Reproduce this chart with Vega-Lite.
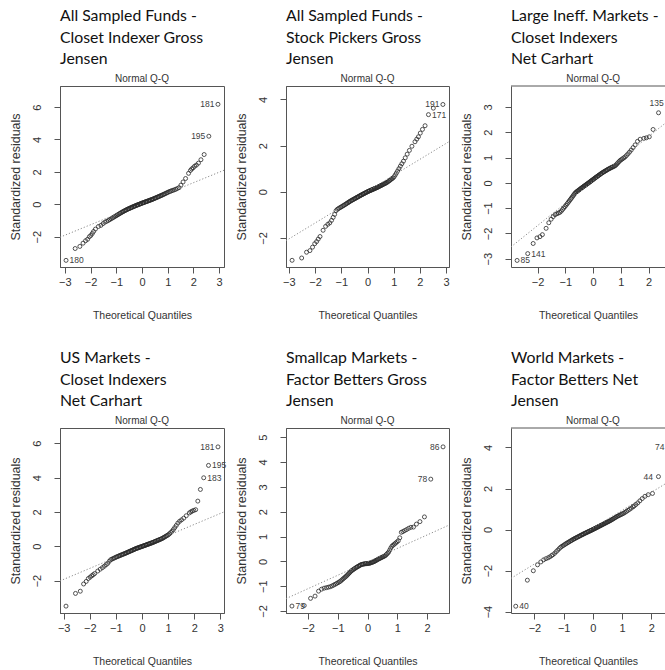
{
  "$schema": "https://vega.github.io/schema/vega-lite/v6.json",
  "padding": {"left": 8, "top": 7, "right": 0, "bottom": 0},
  "background": "white",
  "config": {
    "view": {"stroke": "#555"},
    "axis": {"grid": false, "domainColor": "#555", "tickColor": "#555", "labelFont": "Liberation Sans", "titleFont": "Liberation Sans", "labelFontSize": 11, "titleFontSize": 10.5, "titleFontWeight": "normal", "labelColor": "#333", "titleColor": "#333", "labelFlush": false, "labelOverlap": false, "tickSize": 6},
    "axisX": {"labelPadding": 3, "titlePadding": 23, "title": "Theoretical Quantiles"},
    "axisY": {"labelAngle": 270, "labelAlign": "center", "labelBaseline": "bottom", "labelPadding": 12, "titlePadding": 9, "titleFontSize": 12.5},
    "title": {"anchor": "start", "frame": "group", "font": "Lato", "fontSize": 15.8, "fontWeight": "normal", "color": "#111", "lineHeight": 21.5, "offset": 6},
    "point": {"shape": "circle", "filled": false, "size": 16, "strokeWidth": 0.8, "color": "#2a2a2a", "opacity": 1},
    "rule": {"color": "#8c8c8c", "strokeDash": [1.2, 2], "strokeWidth": 1},
    "text": {"font": "Liberation Sans", "fontSize": 8.5, "color": "#404040", "baseline": "middle"}
  },
  "datasets": {
    "a": [
      {"x":-2.955,"y":-3.46},{"x":-2.6,"y":-2.73},{"x":-2.418,"y":-2.6},{"x":-2.293,"y":-2.4},{"x":-2.196,"y":-2.25},{"x":-2.116,"y":-2.16},{"x":-2.047,"y":-2.0},{"x":-1.988,"y":-1.92},{"x":-1.933,"y":-1.8},{"x":-1.885,"y":-1.68},
      {"x":-1.812,"y":-1.53},{"x":-1.695,"y":-1.37},{"x":-1.598,"y":-1.3},{"x":-1.514,"y":-1.19},{"x":-1.44,"y":-1.1},{"x":-1.372,"y":-1.05},{"x":-1.311,"y":-1.0},{"x":-1.254,"y":-0.945},{"x":-1.2,"y":-0.89},{"x":-1.15,"y":-0.845},{"x":-1.103,"y":-0.8},{"x":-1.058,"y":-0.755},{"x":-1.015,"y":-0.715},{"x":-0.974,"y":-0.676},{"x":-0.935,"y":-0.638},{"x":-0.896,"y":-0.6},{"x":-0.86,"y":-0.566},{"x":-0.824,"y":-0.53},{"x":-0.789,"y":-0.5},{"x":-0.755,"y":-0.466},{"x":-0.722,"y":-0.44},{"x":-0.69,"y":-0.41},{"x":-0.659,"y":-0.385},{"x":-0.628,"y":-0.36},{"x":-0.598,"y":-0.334},{"x":-0.568,"y":-0.309},{"x":-0.539,"y":-0.288},{"x":-0.51,"y":-0.268},{"x":-0.482,"y":-0.248},{"x":-0.454,"y":-0.229},{"x":-0.426,"y":-0.209},{"x":-0.399,"y":-0.19},{"x":-0.372,"y":-0.17},{"x":-0.345,"y":-0.15},{"x":-0.319,"y":-0.135},{"x":-0.292,"y":-0.115},{"x":-0.266,"y":-0.098},{"x":-0.24,"y":-0.08},{"x":-0.215,"y":-0.064},{"x":-0.189,"y":-0.048},{"x":-0.164,"y":-0.033},{"x":-0.138,"y":-0.016},{"x":-0.113,"y":-0.001},{"x":-0.088,"y":0.015},{"x":-0.063,"y":0.031},{"x":-0.038,"y":0.046},{"x":-0.013,"y":0.062},
      {"x":0.013,"y":0.078},{"x":0.038,"y":0.092},{"x":0.063,"y":0.107},{"x":0.088,"y":0.121},{"x":0.113,"y":0.136},{"x":0.138,"y":0.151},{"x":0.164,"y":0.166},{"x":0.189,"y":0.18},{"x":0.215,"y":0.196},{"x":0.24,"y":0.21},{"x":0.266,"y":0.226},{"x":0.292,"y":0.241},{"x":0.319,"y":0.257},{"x":0.345,"y":0.272},{"x":0.372,"y":0.288},{"x":0.399,"y":0.303},{"x":0.426,"y":0.321},{"x":0.454,"y":0.34},{"x":0.482,"y":0.36},{"x":0.51,"y":0.379},{"x":0.539,"y":0.399},{"x":0.568,"y":0.419},{"x":0.598,"y":0.44},{"x":0.628,"y":0.461},{"x":0.659,"y":0.482},{"x":0.69,"y":0.504},{"x":0.722,"y":0.526},{"x":0.755,"y":0.549},{"x":0.789,"y":0.572},{"x":0.824,"y":0.598},{"x":0.86,"y":0.626},{"x":0.896,"y":0.654},{"x":0.935,"y":0.684},{"x":0.974,"y":0.714},{"x":1.015,"y":0.745},{"x":1.058,"y":0.778},{"x":1.103,"y":0.805},{"x":1.15,"y":0.832},{"x":1.2,"y":0.861},{"x":1.254,"y":0.892},{"x":1.311,"y":0.925},{"x":1.372,"y":0.972},{"x":1.44,"y":1.026},{"x":1.514,"y":1.18},{"x":1.598,"y":1.378},{"x":1.695,"y":1.59},{"x":1.812,"y":1.91},
      {"x":1.885,"y":2.09},{"x":1.933,"y":2.18},{"x":1.988,"y":2.25},{"x":2.047,"y":2.35},{"x":2.116,"y":2.42},{"x":2.196,"y":2.54},{"x":2.293,"y":2.75},{"x":2.418,"y":3.07},{"x":2.6,"y":4.2},{"x":2.955,"y":6.17}
    ],
    "b": [
      {"x":-2.878,"y":-2.97},{"x":-2.512,"y":-2.87},{"x":-2.326,"y":-2.62},{"x":-2.197,"y":-2.55},{"x":-2.097,"y":-2.4},{"x":-2.014,"y":-2.25},{"x":-1.943,"y":-2.16},{"x":-1.881,"y":-2.05},
      {"x":-1.812,"y":-1.94},{"x":-1.695,"y":-1.67},{"x":-1.598,"y":-1.5},{"x":-1.514,"y":-1.41},{"x":-1.44,"y":-1.35},{"x":-1.372,"y":-1.24},{"x":-1.311,"y":-1.11},{"x":-1.254,"y":-0.98},{"x":-1.2,"y":-0.82},{"x":-1.15,"y":-0.76},{"x":-1.103,"y":-0.725},{"x":-1.058,"y":-0.695},{"x":-1.015,"y":-0.665},{"x":-0.974,"y":-0.64},{"x":-0.935,"y":-0.61},{"x":-0.896,"y":-0.585},{"x":-0.86,"y":-0.558},{"x":-0.824,"y":-0.532},{"x":-0.789,"y":-0.506},{"x":-0.755,"y":-0.48},{"x":-0.722,"y":-0.457},{"x":-0.69,"y":-0.434},{"x":-0.659,"y":-0.41},{"x":-0.628,"y":-0.389},{"x":-0.598,"y":-0.37},{"x":-0.568,"y":-0.351},{"x":-0.539,"y":-0.333},{"x":-0.51,"y":-0.314},{"x":-0.482,"y":-0.296},{"x":-0.454,"y":-0.279},{"x":-0.426,"y":-0.261},{"x":-0.399,"y":-0.244},{"x":-0.372,"y":-0.227},{"x":-0.345,"y":-0.21},{"x":-0.319,"y":-0.193},{"x":-0.292,"y":-0.176},{"x":-0.266,"y":-0.16},{"x":-0.24,"y":-0.144},{"x":-0.215,"y":-0.129},{"x":-0.189,"y":-0.113},{"x":-0.164,"y":-0.098},{"x":-0.138,"y":-0.083},{"x":-0.113,"y":-0.068},{"x":-0.088,"y":-0.053},{"x":-0.063,"y":-0.038},{"x":-0.038,"y":-0.023},{"x":-0.013,"y":-0.008},
      {"x":0.013,"y":0.007},{"x":0.038,"y":0.019},{"x":0.063,"y":0.032},{"x":0.088,"y":0.044},{"x":0.113,"y":0.057},{"x":0.138,"y":0.069},{"x":0.164,"y":0.082},{"x":0.189,"y":0.095},{"x":0.215,"y":0.108},{"x":0.24,"y":0.12},{"x":0.266,"y":0.133},{"x":0.292,"y":0.146},{"x":0.319,"y":0.16},{"x":0.345,"y":0.173},{"x":0.372,"y":0.186},{"x":0.399,"y":0.201},{"x":0.426,"y":0.217},{"x":0.454,"y":0.233},{"x":0.482,"y":0.25},{"x":0.51,"y":0.266},{"x":0.539,"y":0.283},{"x":0.568,"y":0.3},{"x":0.598,"y":0.317},{"x":0.628,"y":0.335},{"x":0.659,"y":0.353},{"x":0.69,"y":0.371},{"x":0.722,"y":0.39},{"x":0.755,"y":0.413},{"x":0.789,"y":0.441},{"x":0.824,"y":0.471},{"x":0.86,"y":0.5},{"x":0.896,"y":0.532},{"x":0.935,"y":0.565},{"x":0.974,"y":0.598},{"x":1.015,"y":0.648},{"x":1.058,"y":0.727},{"x":1.103,"y":0.81},{"x":1.15,"y":0.9},{"x":1.2,"y":1.0},{"x":1.254,"y":1.108},{"x":1.311,"y":1.213},{"x":1.372,"y":1.325},{"x":1.44,"y":1.47},{"x":1.514,"y":1.628},{"x":1.598,"y":1.79},{"x":1.695,"y":1.97},{"x":1.812,"y":2.165},
      {"x":1.881,"y":2.28},{"x":1.943,"y":2.38},{"x":2.014,"y":2.54},{"x":2.097,"y":2.7},{"x":2.197,"y":2.86},{"x":2.326,"y":3.34},{"x":2.512,"y":3.62},{"x":2.878,"y":3.78}
    ],
    "c": [
      {"x":-2.74,"y":-3.07},{"x":-2.357,"y":-2.8},{"x":-2.161,"y":-2.4},{"x":-2.024,"y":-2.18},{"x":-1.917,"y":-2.13},{"x":-1.829,"y":-2.05},
      {"x":-1.695,"y":-1.8},{"x":-1.598,"y":-1.58},{"x":-1.514,"y":-1.44},{"x":-1.44,"y":-1.337},{"x":-1.372,"y":-1.26},{"x":-1.311,"y":-1.225},{"x":-1.254,"y":-1.197},{"x":-1.2,"y":-1.17},{"x":-1.15,"y":-1.12},{"x":-1.103,"y":-1.057},{"x":-1.058,"y":-0.997},{"x":-1.015,"y":-0.94},{"x":-0.974,"y":-0.882},{"x":-0.935,"y":-0.826},{"x":-0.896,"y":-0.77},{"x":-0.86,"y":-0.718},{"x":-0.824,"y":-0.663},{"x":-0.789,"y":-0.614},{"x":-0.755,"y":-0.563},{"x":-0.722,"y":-0.513},{"x":-0.69,"y":-0.465},{"x":-0.659,"y":-0.419},{"x":-0.628,"y":-0.38},{"x":-0.598,"y":-0.355},{"x":-0.568,"y":-0.33},{"x":-0.539,"y":-0.306},{"x":-0.51,"y":-0.282},{"x":-0.482,"y":-0.258},{"x":-0.454,"y":-0.235},{"x":-0.426,"y":-0.212},{"x":-0.399,"y":-0.189},{"x":-0.372,"y":-0.168},{"x":-0.345,"y":-0.146},{"x":-0.319,"y":-0.126},{"x":-0.292,"y":-0.104},{"x":-0.266,"y":-0.084},{"x":-0.24,"y":-0.063},{"x":-0.215,"y":-0.043},{"x":-0.189,"y":-0.023},{"x":-0.164,"y":-0.003},{"x":-0.138,"y":0.018},{"x":-0.113,"y":0.039},{"x":-0.088,"y":0.06},{"x":-0.063,"y":0.081},{"x":-0.038,"y":0.102},{"x":-0.013,"y":0.123},
      {"x":0.013,"y":0.144},{"x":0.038,"y":0.165},{"x":0.063,"y":0.186},{"x":0.088,"y":0.206},{"x":0.113,"y":0.226},{"x":0.138,"y":0.246},{"x":0.164,"y":0.266},{"x":0.189,"y":0.286},{"x":0.215,"y":0.307},{"x":0.24,"y":0.327},{"x":0.266,"y":0.347},{"x":0.292,"y":0.368},{"x":0.319,"y":0.389},{"x":0.345,"y":0.407},{"x":0.372,"y":0.425},{"x":0.399,"y":0.443},{"x":0.426,"y":0.461},{"x":0.454,"y":0.479},{"x":0.482,"y":0.498},{"x":0.51,"y":0.517},{"x":0.539,"y":0.536},{"x":0.568,"y":0.554},{"x":0.598,"y":0.571},{"x":0.628,"y":0.587},{"x":0.659,"y":0.604},{"x":0.69,"y":0.62},{"x":0.722,"y":0.638},{"x":0.755,"y":0.656},{"x":0.789,"y":0.674},{"x":0.824,"y":0.708},{"x":0.86,"y":0.75},{"x":0.896,"y":0.794},{"x":0.935,"y":0.84},{"x":0.974,"y":0.885},{"x":1.015,"y":0.917},{"x":1.058,"y":0.95},{"x":1.103,"y":0.986},{"x":1.15,"y":1.022},{"x":1.2,"y":1.079},{"x":1.254,"y":1.145},{"x":1.311,"y":1.215},{"x":1.372,"y":1.296},{"x":1.44,"y":1.394},{"x":1.514,"y":1.5},{"x":1.598,"y":1.64},{"x":1.695,"y":1.725},
      {"x":1.829,"y":1.76},{"x":1.917,"y":1.78},{"x":2.024,"y":1.82},{"x":2.161,"y":2.11},{"x":2.357,"y":2.77},{"x":2.74,"y":3.15}
    ],
    "d": [
      {"x":-2.91,"y":-3.49},{"x":-2.547,"y":-2.75},{"x":-2.363,"y":-2.62},{"x":-2.236,"y":-2.2},{"x":-2.137,"y":-2.05},{"x":-2.055,"y":-1.88},{"x":-1.985,"y":-1.8},{"x":-1.924,"y":-1.72},{"x":-1.869,"y":-1.66},
      {"x":-1.812,"y":-1.59},{"x":-1.695,"y":-1.445},{"x":-1.598,"y":-1.335},{"x":-1.514,"y":-1.246},{"x":-1.44,"y":-1.161},{"x":-1.372,"y":-1.073},{"x":-1.311,"y":-0.994},{"x":-1.254,"y":-0.877},{"x":-1.2,"y":-0.786},{"x":-1.15,"y":-0.75},{"x":-1.103,"y":-0.716},{"x":-1.058,"y":-0.684},{"x":-1.015,"y":-0.652},{"x":-0.974,"y":-0.622},{"x":-0.935,"y":-0.598},{"x":-0.896,"y":-0.573},{"x":-0.86,"y":-0.55},{"x":-0.824,"y":-0.528},{"x":-0.789,"y":-0.506},{"x":-0.755,"y":-0.484},{"x":-0.722,"y":-0.464},{"x":-0.69,"y":-0.443},{"x":-0.659,"y":-0.424},{"x":-0.628,"y":-0.405},{"x":-0.598,"y":-0.386},{"x":-0.568,"y":-0.365},{"x":-0.539,"y":-0.346},{"x":-0.51,"y":-0.326},{"x":-0.482,"y":-0.307},{"x":-0.454,"y":-0.288},{"x":-0.426,"y":-0.269},{"x":-0.399,"y":-0.251},{"x":-0.372,"y":-0.233},{"x":-0.345,"y":-0.214},{"x":-0.319,"y":-0.197},{"x":-0.292,"y":-0.179},{"x":-0.266,"y":-0.16},{"x":-0.24,"y":-0.142},{"x":-0.215,"y":-0.127},{"x":-0.189,"y":-0.113},{"x":-0.164,"y":-0.1},{"x":-0.138,"y":-0.086},{"x":-0.113,"y":-0.072},{"x":-0.088,"y":-0.058},{"x":-0.063,"y":-0.045},{"x":-0.038,"y":-0.031},{"x":-0.013,"y":-0.018},
      {"x":0.013,"y":-0.004},{"x":0.038,"y":0.01},{"x":0.063,"y":0.024},{"x":0.088,"y":0.038},{"x":0.113,"y":0.051},{"x":0.138,"y":0.065},{"x":0.164,"y":0.08},{"x":0.189,"y":0.093},{"x":0.215,"y":0.108},{"x":0.24,"y":0.122},{"x":0.266,"y":0.136},{"x":0.292,"y":0.15},{"x":0.319,"y":0.165},{"x":0.345,"y":0.18},{"x":0.372,"y":0.195},{"x":0.399,"y":0.21},{"x":0.426,"y":0.227},{"x":0.454,"y":0.245},{"x":0.482,"y":0.263},{"x":0.51,"y":0.282},{"x":0.539,"y":0.3},{"x":0.568,"y":0.319},{"x":0.598,"y":0.338},{"x":0.628,"y":0.358},{"x":0.659,"y":0.378},{"x":0.69,"y":0.398},{"x":0.722,"y":0.419},{"x":0.755,"y":0.44},{"x":0.789,"y":0.467},{"x":0.824,"y":0.5},{"x":0.86,"y":0.533},{"x":0.896,"y":0.566},{"x":0.935,"y":0.602},{"x":0.974,"y":0.638},{"x":1.015,"y":0.675},{"x":1.058,"y":0.735},{"x":1.103,"y":0.8},{"x":1.15,"y":0.87},{"x":1.2,"y":0.974},{"x":1.254,"y":1.087},{"x":1.311,"y":1.21},{"x":1.372,"y":1.348},{"x":1.44,"y":1.454},{"x":1.514,"y":1.537},{"x":1.598,"y":1.636},{"x":1.695,"y":1.778},{"x":1.812,"y":1.94},
      {"x":1.869,"y":2.0},{"x":1.924,"y":2.05},{"x":1.985,"y":2.09},{"x":2.055,"y":2.13},{"x":2.137,"y":2.63},{"x":2.236,"y":3.31},{"x":2.363,"y":3.99},{"x":2.547,"y":4.71},{"x":2.91,"y":5.79}
    ],
    "e": [
      {"x":-2.54,"y":-1.8},{"x":-2.128,"y":-1.78},{"x":-1.914,"y":-1.49},{"x":-1.763,"y":-1.4},{"x":-1.645,"y":-1.2},{"x":-1.545,"y":-1.12},{"x":-1.459,"y":-1.08},{"x":-1.383,"y":-1.06},{"x":-1.314,"y":-1.04},{"x":-1.25,"y":-1.02},{"x":-1.192,"y":-0.99},{"x":-1.137,"y":-0.956},{"x":-1.085,"y":-0.923},{"x":-1.036,"y":-0.89},{"x":-0.99,"y":-0.858},{"x":-0.945,"y":-0.827},{"x":-0.903,"y":-0.792},{"x":-0.862,"y":-0.749},{"x":-0.822,"y":-0.707},{"x":-0.783,"y":-0.667},{"x":-0.746,"y":-0.628},{"x":-0.71,"y":-0.59},{"x":-0.674,"y":-0.548},{"x":-0.64,"y":-0.505},{"x":-0.606,"y":-0.463},{"x":-0.573,"y":-0.421},{"x":-0.541,"y":-0.381},{"x":-0.508,"y":-0.354},{"x":-0.477,"y":-0.328},{"x":-0.446,"y":-0.303},{"x":-0.415,"y":-0.277},{"x":-0.385,"y":-0.252},{"x":-0.355,"y":-0.23},{"x":-0.326,"y":-0.21},{"x":-0.297,"y":-0.19},{"x":-0.268,"y":-0.17},{"x":-0.24,"y":-0.15},{"x":-0.21,"y":-0.13},{"x":-0.182,"y":-0.122},{"x":-0.154,"y":-0.115},{"x":-0.126,"y":-0.107},{"x":-0.098,"y":-0.1},{"x":-0.07,"y":-0.096},{"x":-0.042,"y":-0.093},{"x":-0.014,"y":-0.09},
      {"x":0.014,"y":-0.086},{"x":0.042,"y":-0.082},{"x":0.07,"y":-0.076},{"x":0.098,"y":-0.063},{"x":0.126,"y":-0.051},{"x":0.154,"y":-0.04},{"x":0.182,"y":-0.027},{"x":0.21,"y":-0.015},{"x":0.24,"y":0.004},{"x":0.268,"y":0.023},{"x":0.297,"y":0.043},{"x":0.326,"y":0.063},{"x":0.355,"y":0.084},{"x":0.385,"y":0.103},{"x":0.415,"y":0.12},{"x":0.446,"y":0.139},{"x":0.477,"y":0.157},{"x":0.508,"y":0.176},{"x":0.541,"y":0.195},{"x":0.573,"y":0.214},{"x":0.606,"y":0.238},{"x":0.64,"y":0.281},{"x":0.674,"y":0.324},{"x":0.71,"y":0.37},{"x":0.746,"y":0.453},{"x":0.783,"y":0.538},{"x":0.822,"y":0.612},{"x":0.862,"y":0.652},{"x":0.903,"y":0.693},{"x":0.945,"y":0.736},{"x":0.99,"y":0.782},{"x":1.036,"y":0.83},{"x":1.085,"y":0.95},{"x":1.137,"y":1.17},{"x":1.192,"y":1.2},{"x":1.25,"y":1.24},{"x":1.314,"y":1.28},{"x":1.383,"y":1.33},{"x":1.459,"y":1.37},{"x":1.545,"y":1.38},{"x":1.645,"y":1.5},{"x":1.763,"y":1.6},{"x":1.914,"y":1.79},{"x":2.128,"y":3.31},{"x":2.54,"y":4.61}
    ],
    "f": [
      {"x":-2.638,"y":-3.74},{"x":-2.241,"y":-2.47},{"x":-2.037,"y":-2.01},{"x":-1.893,"y":-1.72},{"x":-1.78,"y":-1.58},{"x":-1.687,"y":-1.48},{"x":-1.606,"y":-1.42},{"x":-1.534,"y":-1.38},{"x":-1.47,"y":-1.33},{"x":-1.411,"y":-1.27},
      {"x":-1.372,"y":-1.23},{"x":-1.311,"y":-1.163},{"x":-1.254,"y":-1.08},{"x":-1.2,"y":-1.004},{"x":-1.15,"y":-0.93},{"x":-1.103,"y":-0.864},{"x":-1.058,"y":-0.82},{"x":-1.015,"y":-0.78},{"x":-0.974,"y":-0.741},{"x":-0.935,"y":-0.705},{"x":-0.896,"y":-0.671},{"x":-0.86,"y":-0.64},{"x":-0.824,"y":-0.609},{"x":-0.789,"y":-0.579},{"x":-0.755,"y":-0.55},{"x":-0.722,"y":-0.522},{"x":-0.69,"y":-0.494},{"x":-0.659,"y":-0.468},{"x":-0.628,"y":-0.444},{"x":-0.598,"y":-0.422},{"x":-0.568,"y":-0.4},{"x":-0.539,"y":-0.378},{"x":-0.51,"y":-0.357},{"x":-0.482,"y":-0.336},{"x":-0.454,"y":-0.316},{"x":-0.426,"y":-0.295},{"x":-0.399,"y":-0.275},{"x":-0.372,"y":-0.256},{"x":-0.345,"y":-0.236},{"x":-0.319,"y":-0.217},{"x":-0.292,"y":-0.198},{"x":-0.266,"y":-0.18},{"x":-0.24,"y":-0.162},{"x":-0.215,"y":-0.146},{"x":-0.189,"y":-0.128},{"x":-0.164,"y":-0.111},{"x":-0.138,"y":-0.093},{"x":-0.113,"y":-0.077},{"x":-0.088,"y":-0.06},{"x":-0.063,"y":-0.043},{"x":-0.038,"y":-0.026},{"x":-0.013,"y":-0.009},
      {"x":0.013,"y":0.01},{"x":0.038,"y":0.028},{"x":0.063,"y":0.046},{"x":0.088,"y":0.065},{"x":0.113,"y":0.083},{"x":0.138,"y":0.102},{"x":0.164,"y":0.121},{"x":0.189,"y":0.139},{"x":0.215,"y":0.158},{"x":0.24,"y":0.177},{"x":0.266,"y":0.196},{"x":0.292,"y":0.215},{"x":0.319,"y":0.235},{"x":0.345,"y":0.254},{"x":0.372,"y":0.274},{"x":0.399,"y":0.294},{"x":0.426,"y":0.313},{"x":0.454,"y":0.334},{"x":0.482,"y":0.354},{"x":0.51,"y":0.375},{"x":0.539,"y":0.396},{"x":0.568,"y":0.417},{"x":0.598,"y":0.439},{"x":0.628,"y":0.464},{"x":0.659,"y":0.491},{"x":0.69,"y":0.518},{"x":0.722,"y":0.546},{"x":0.755,"y":0.575},{"x":0.789,"y":0.604},{"x":0.824,"y":0.635},{"x":0.86,"y":0.661},{"x":0.896,"y":0.686},{"x":0.935,"y":0.713},{"x":0.974,"y":0.74},{"x":1.015,"y":0.769},{"x":1.058,"y":0.799},{"x":1.103,"y":0.841},{"x":1.15,"y":0.886},{"x":1.2,"y":0.934},{"x":1.254,"y":0.986},{"x":1.311,"y":1.042},{"x":1.372,"y":1.108},
      {"x":1.411,"y":1.15},{"x":1.47,"y":1.22},{"x":1.534,"y":1.3},{"x":1.606,"y":1.4},{"x":1.687,"y":1.51},{"x":1.78,"y":1.62},{"x":1.893,"y":1.7},{"x":2.037,"y":1.76},{"x":2.241,"y":2.58},{"x":2.638,"y":4.02}
    ]
  },
  "columns": 3,
  "spacing": {"row": 161, "column": 62},
  "bounds": "flush",
  "concat": [
    {
      "width": 164, "height": 181,
      "title": {"text": ["All Sampled Funds -", "Closet Indexer Gross", "Jensen"]},
      "encoding": {
        "x": {"field": "x", "type": "quantitative", "scale": {"domain": [-3.19, 3.19], "nice": false, "zero": false}, "axis": {"values": [-3, -2, -1, 0, 1, 2, 3], "title": "Theoretical Quantiles", "labelOverlap": false}},
        "y": {"field": "y", "type": "quantitative", "scale": {"domain": [-3.87, 7.3], "nice": false, "zero": false}, "axis": {"values": [-2, 0, 2, 4, 6], "title": "Standardized residuals", "labelOverlap": false}}
      },
      "layer": [
        {"data": {"name": "a"}, "mark": "point"},
        {"data": {"values": [{"x": -3.19, "y": -2.032, "x2": 3.19, "y2": 2.102}]}, "mark": "rule", "encoding": {"x2": {"field": "x2"}, "y2": {"field": "y2"}}},
        {"data": {"values": [{"x": 2.955, "y": 6.17, "t": "181"}, {"x": 2.6, "y": 4.2, "t": "195"}]}, "mark": {"type": "text", "align": "right", "dx": -3.5}, "encoding": {"text": {"field": "t"}}},
        {"data": {"values": [{"x": -2.955, "y": -3.46, "t": "180"}]}, "mark": {"type": "text", "align": "left", "dx": 3.5}, "encoding": {"text": {"field": "t"}}},
        {"data": {"values": [{"x": 0, "y": 7.3, "t": "Normal Q-Q"}]}, "mark": {"type": "text", "align": "center", "baseline": "bottom", "dy": -2, "fontSize": 10, "color": "#333"}, "encoding": {"text": {"field": "t"}}}
      ]
    },
    {
      "width": 163, "height": 181,
      "title": {"text": ["All Sampled Funds -", "Stock Pickers Gross", "Jensen"]},
      "encoding": {
        "x": {"field": "x", "type": "quantitative", "scale": {"domain": [-3.11, 3.11], "nice": false, "zero": false}, "axis": {"values": [-3, -2, -1, 0, 1, 2, 3], "title": "Theoretical Quantiles", "labelOverlap": false}},
        "y": {"field": "y", "type": "quantitative", "scale": {"domain": [-3.26, 4.58], "nice": false, "zero": false}, "axis": {"values": [-2, 0, 2, 4], "title": "Standardized residuals", "labelOverlap": false}}
      },
      "layer": [
        {"data": {"name": "b"}, "mark": "point"},
        {"data": {"values": [{"x": -3.11, "y": -2.12, "x2": 3.11, "y2": 2.17}]}, "mark": "rule", "encoding": {"x2": {"field": "x2"}, "y2": {"field": "y2"}}},
        {"data": {"values": [{"x": 2.878, "y": 3.78, "t": "191"}]}, "mark": {"type": "text", "align": "right", "dx": -3.5}, "encoding": {"text": {"field": "t"}}},
        {"data": {"values": [{"x": 2.326, "y": 3.34, "t": "171"}]}, "mark": {"type": "text", "align": "left", "dx": 3.5}, "encoding": {"text": {"field": "t"}}},
        {"data": {"values": [{"x": 0, "y": 4.58, "t": "Normal Q-Q"}]}, "mark": {"type": "text", "align": "center", "baseline": "bottom", "dy": -2, "fontSize": 10, "color": "#333"}, "encoding": {"text": {"field": "t"}}}
      ]
    },
    {
      "width": 154, "height": 181,
      "view": {"stroke": null},
      "title": {"text": ["Large Ineff. Markets -", "Closet Indexers", "Net Carhart"]},
      "encoding": {
        "x": {"field": "x", "type": "quantitative", "scale": {"domain": [-2.96, 2.59], "nice": false, "zero": false}, "axis": {"values": [-2, -1, 0, 1, 2], "title": "Theoretical Quantiles", "labelOverlap": false}},
        "y": {"field": "y", "type": "quantitative", "scale": {"domain": [-3.33, 3.83], "nice": false, "zero": false}, "axis": {"values": [-3, -2, -1, 0, 1, 2, 3], "title": "Standardized residuals", "labelOverlap": false}}
      },
      "layer": [
        {"data": {"name": "c"}, "mark": {"type": "point", "clip": true}},
        {"data": {"values": [{"x": -2.96, "y": -2.535, "x2": 2.59, "y2": 2.35}]}, "mark": {"type": "rule", "clip": true}, "encoding": {"x2": {"field": "x2"}, "y2": {"field": "y2"}}},
        {"data": {"values": [{"x": -2.96, "x2": 2.59, "y": 3.83}]}, "mark": {"type": "rule", "strokeDash": [], "color": "#555"}, "encoding": {"x2": {"field": "x2"}}},
        {"data": {"values": [{"x": 2.74, "y": 3.15, "t": "135"}]}, "mark": {"type": "text", "align": "right", "dx": -5.5, "clip": true}, "encoding": {"text": {"field": "t"}}},
        {"data": {"values": [{"x": -2.74, "y": -3.07, "t": "85"}, {"x": -2.357, "y": -2.8, "t": "141"}]}, "mark": {"type": "text", "align": "left", "dx": 3.5, "clip": true}, "encoding": {"text": {"field": "t"}}},
        {"data": {"values": [{"x": 0, "y": 3.83, "t": "Normal Q-Q"}]}, "mark": {"type": "text", "align": "center", "baseline": "bottom", "dy": -2, "fontSize": 10, "color": "#333"}, "encoding": {"text": {"field": "t"}}}
      ]
    },
    {
      "width": 164, "height": 185,
      "title": {"text": ["US Markets -", "Closet Indexers", "Net Carhart"]},
      "encoding": {
        "x": {"field": "x", "type": "quantitative", "scale": {"domain": [-3.14, 3.14], "nice": false, "zero": false}, "axis": {"values": [-3, -2, -1, 0, 1, 2, 3], "title": "Theoretical Quantiles", "labelOverlap": false}},
        "y": {"field": "y", "type": "quantitative", "scale": {"domain": [-3.89, 6.89], "nice": false, "zero": false}, "axis": {"values": [-2, 0, 2, 4, 6], "title": "Standardized residuals", "labelOverlap": false}}
      },
      "layer": [
        {"data": {"name": "d"}, "mark": "point"},
        {"data": {"values": [{"x": -3.14, "y": -2.02, "x2": 3.14, "y2": 2.0}]}, "mark": "rule", "encoding": {"x2": {"field": "x2"}, "y2": {"field": "y2"}}},
        {"data": {"values": [{"x": 2.91, "y": 5.79, "t": "181"}]}, "mark": {"type": "text", "align": "right", "dx": -3.5}, "encoding": {"text": {"field": "t"}}},
        {"data": {"values": [{"x": 2.547, "y": 4.71, "t": "195"}, {"x": 2.363, "y": 3.99, "t": "183"}]}, "mark": {"type": "text", "align": "left", "dx": 3.5}, "encoding": {"text": {"field": "t"}}},
        {"data": {"values": [{"x": 0, "y": 6.89, "t": "Normal Q-Q"}]}, "mark": {"type": "text", "align": "center", "baseline": "bottom", "dy": -2, "fontSize": 10, "color": "#333"}, "encoding": {"text": {"field": "t"}}}
      ]
    },
    {
      "width": 163, "height": 185,
      "title": {"text": ["Smallcap Markets -", "Factor Betters Gross", "Jensen"]},
      "encoding": {
        "x": {"field": "x", "type": "quantitative", "scale": {"domain": [-2.74, 2.74], "nice": false, "zero": false}, "axis": {"values": [-2, -1, 0, 1, 2], "title": "Theoretical Quantiles", "labelOverlap": false}},
        "y": {"field": "y", "type": "quantitative", "scale": {"domain": [-2.08, 5.37], "nice": false, "zero": false}, "axis": {"values": [-2, -1, 0, 1, 2, 3, 4, 5], "title": "Standardized residuals", "labelOverlap": false}}
      },
      "layer": [
        {"data": {"name": "e"}, "mark": "point"},
        {"data": {"values": [{"x": -2.74, "y": -1.5, "x2": 2.74, "y2": 1.46}]}, "mark": "rule", "encoding": {"x2": {"field": "x2"}, "y2": {"field": "y2"}}},
        {"data": {"values": [{"x": 2.54, "y": 4.61, "t": "86"}, {"x": 2.128, "y": 3.31, "t": "78"}]}, "mark": {"type": "text", "align": "right", "dx": -3.5}, "encoding": {"text": {"field": "t"}}},
        {"data": {"values": [{"x": -2.54, "y": -1.8, "t": "79"}]}, "mark": {"type": "text", "align": "left", "dx": 3.5}, "encoding": {"text": {"field": "t"}}},
        {"data": {"values": [{"x": 0, "y": 5.37, "t": "Normal Q-Q"}]}, "mark": {"type": "text", "align": "center", "baseline": "bottom", "dy": -2, "fontSize": 10, "color": "#333"}, "encoding": {"text": {"field": "t"}}}
      ]
    },
    {
      "width": 154, "height": 185,
      "view": {"stroke": null},
      "title": {"text": ["World Markets -", "Factor Betters Net", "Jensen"]},
      "encoding": {
        "x": {"field": "x", "type": "quantitative", "scale": {"domain": [-2.8, 2.465], "nice": false, "zero": false}, "axis": {"values": [-2, -1, 0, 1, 2], "title": "Theoretical Quantiles", "labelOverlap": false}},
        "y": {"field": "y", "type": "quantitative", "scale": {"domain": [-4.07, 4.95], "nice": false, "zero": false}, "axis": {"values": [-4, -2, 0, 2, 4], "title": "Standardized residuals", "labelOverlap": false}}
      },
      "layer": [
        {"data": {"name": "f"}, "mark": {"type": "point", "clip": true}},
        {"data": {"values": [{"x": -2.8, "y": -2.38, "x2": 2.465, "y2": 2.22}]}, "mark": {"type": "rule", "clip": true}, "encoding": {"x2": {"field": "x2"}, "y2": {"field": "y2"}}},
        {"data": {"values": [{"x": -2.8, "x2": 2.465, "y": 4.95}]}, "mark": {"type": "rule", "strokeDash": [], "color": "#555"}, "encoding": {"x2": {"field": "x2"}}},
        {"data": {"values": [{"x": 2.638, "y": 4.02, "t": "74"}, {"x": 2.241, "y": 2.58, "t": "44"}]}, "mark": {"type": "text", "align": "right", "dx": -5.5, "clip": true}, "encoding": {"text": {"field": "t"}}},
        {"data": {"values": [{"x": -2.638, "y": -3.74, "t": "40"}]}, "mark": {"type": "text", "align": "left", "dx": 3.5, "clip": true}, "encoding": {"text": {"field": "t"}}},
        {"data": {"values": [{"x": 0, "y": 4.95, "t": "Normal Q-Q"}]}, "mark": {"type": "text", "align": "center", "baseline": "bottom", "dy": -2, "fontSize": 10, "color": "#333"}, "encoding": {"text": {"field": "t"}}}
      ]
    }
  ]
}
